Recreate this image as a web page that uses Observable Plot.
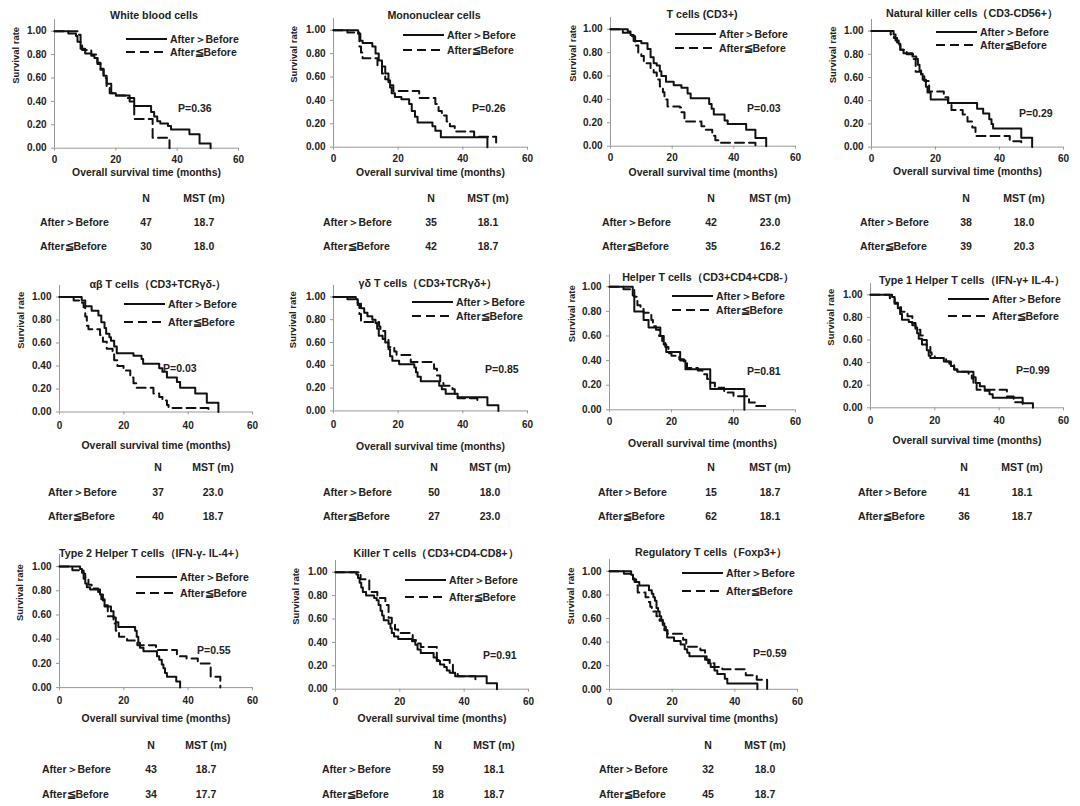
<!DOCTYPE html>
<html>
<head>
<meta charset="utf-8">
<script src="https://cdn.jsdelivr.net/npm/d3@7"></script>
<script src="https://cdn.jsdelivr.net/npm/@observablehq/plot@0.6"></script>
<style>
  body { margin: 0; background: #fff; }
  #fig { position: relative; width: 1080px; height: 806px; overflow: hidden;
         font-family: "Liberation Sans", Arial, sans-serif; font-weight: bold; color: #222; }
  .abs { position: absolute; white-space: nowrap; line-height: 14px; }
</style>
</head>
<body>
<div id="fig"></div>
<script>
// ---- Panel labels and summary statistics ----
const panelTitles = [
  "White blood cells", "Mononuclear cells", "T cells (CD3+)", "Natural killer cells（CD3-CD56+）",
  "αβ T cells（CD3+TCRγδ-）", "γδ T cells（CD3+TCRγδ+）", "Helper T cells（CD3+CD4+CD8-）",
  "Type 1 Helper T cells（IFN-γ+ IL-4-）", "Type 2 Helper T cells（IFN-γ- IL-4+）",
  "Killer T cells（CD3+CD4-CD8+）", "Regulatory T cells（Foxp3+）"
];
const groupLabels = ["After＞Before", "After≦Before"];
const pValues   = ["0.36", "0.26", "0.03", "0.29", "0.03", "0.85", "0.81", "0.99", "0.55", "0.91", "0.59"];
const nGreater  = [47, 35, 42, 38, 37, 50, 15, 41, 43, 59, 32];
const nLessEq   = [30, 42, 35, 39, 40, 27, 62, 36, 34, 18, 45];
const mstGreater = ["18.7", "18.1", "23.0", "18.0", "23.0", "18.0", "18.7", "18.1", "18.7", "18.1", "18.0"];
const mstLessEq  = ["18.0", "18.7", "16.2", "20.3", "18.7", "23.0", "18.1", "18.7", "17.7", "18.7", "18.7"];
const xTicks = [0, 20, 40, 60];
const yTicks = [0, 0.2, 0.4, 0.6, 0.8, 1.0];

// ---- Kaplan–Meier steps: [month, survival rate] ----
const wbcUp = [[0,1],[4.5,0.98],[7,0.96],[7.5,0.91],[8.5,0.85],[10,0.81],[12,0.79],[13,0.77],[14,0.72],[15,0.68],[16,0.62],[17,0.55],[18.5,0.47],[20,0.45],[24.5,0.40],[26,0.36],[31.5,0.31],[32.5,0.27],[33.5,0.23],[34.5,0.21],[37,0.19],[38,0.16],[44,0.12],[47.3,0.04],[50.9,0]];
const wbcDown = [[0,1],[7.5,0.97],[8.5,0.90],[9,0.84],[12,0.80],[14,0.73],[15,0.67],[16,0.60],[17,0.53],[18,0.47],[19.5,0.45],[23,0.43],[26,0.25],[32,0.09],[37.5,0]];

const monoUp = [[0,1],[7.6,0.97],[8.3,0.91],[9,0.89],[12,0.86],[13,0.80],[14,0.74],[15,0.69],[16,0.63],[17,0.57],[17.5,0.51],[18,0.46],[19,0.43],[21,0.41],[23.4,0.37],[24.2,0.31],[25.2,0.26],[26,0.21],[30.6,0.18],[31.5,0.14],[33.2,0.086],[47.6,0]];
const monoDown = [[0,1],[4.3,0.98],[8,0.86],[8.5,0.81],[9,0.76],[13.6,0.70],[15,0.63],[16,0.58],[17,0.53],[18.5,0.48],[26.5,0.42],[31.5,0.37],[32.5,0.31],[33.5,0.27],[35,0.22],[36,0.18],[37.5,0.135],[43.5,0.09],[50.3,0]];

const cd3Up = [[0,1],[5.6,0.98],[6.5,0.95],[7.5,0.90],[10,0.88],[12,0.83],[13,0.76],[14,0.71],[15,0.69],[16,0.64],[16.5,0.60],[18,0.55],[20.5,0.52],[23,0.50],[25,0.45],[26,0.41],[32,0.36],[32.8,0.32],[33.5,0.27],[37,0.22],[38,0.19],[44,0.14],[47,0.07],[50.5,0]];
const cd3Down = [[0,1],[4,0.97],[7,0.94],[8,0.86],[9,0.80],[10,0.77],[10.8,0.71],[13,0.66],[14,0.63],[15,0.57],[16,0.51],[17,0.46],[17.5,0.40],[18.5,0.34],[22.5,0.33],[23,0.29],[24,0.21],[29.5,0.17],[30.5,0.14],[33,0.09],[34,0.05],[35.5,0.03],[47,0]];

const nkUp = [[0,1],[6.9,0.97],[7.5,0.92],[8.5,0.89],[9,0.84],[10,0.81],[12.8,0.78],[14,0.76],[14.5,0.71],[15,0.66],[15.5,0.63],[16,0.58],[17,0.52],[17.5,0.47],[18.5,0.41],[23.9,0.38],[33,0.33],[34.9,0.29],[36.8,0.24],[37.5,0.20],[38,0.16],[46.8,0.08],[50.2,0]];
const nkDown = [[0,1],[6,0.97],[7,0.94],[8,0.88],[9,0.84],[11,0.80],[13,0.76],[13.8,0.65],[15.5,0.61],[16.5,0.57],[18,0.48],[22.6,0.43],[24,0.38],[25,0.32],[28.5,0.28],[30,0.22],[31.5,0.17],[32.5,0.095],[43.2,0.05],[46.8,0]];

const abUp = [[0,1],[6.9,0.97],[8,0.92],[10,0.88],[12.1,0.84],[13,0.78],[14,0.73],[14.5,0.68],[15.5,0.65],[16,0.62],[17,0.57],[17.8,0.51],[23,0.49],[25.5,0.46],[26,0.42],[31,0.38],[32,0.35],[33.4,0.30],[36.5,0.26],[37.5,0.21],[42.2,0.16],[45.8,0.08],[49.4,0]];
const abDown = [[0,1],[4.4,0.97],[7,0.95],[7.5,0.91],[8,0.83],[8.5,0.75],[9,0.72],[12.6,0.67],[13.5,0.61],[14.7,0.55],[16.5,0.50],[17,0.45],[18,0.40],[19.9,0.36],[22,0.30],[23,0.25],[24,0.21],[29.2,0.16],[31,0.13],[32,0.10],[33.4,0.06],[33.9,0.035],[46.3,0]];

const gdUp = [[0,1],[6.9,0.98],[7.5,0.94],[8.5,0.90],[9.5,0.86],[10.5,0.83],[12,0.80],[13,0.77],[13.5,0.72],[14,0.66],[15.2,0.63],[16,0.60],[17,0.54],[17.5,0.48],[18.2,0.44],[20.3,0.41],[25,0.38],[25.5,0.34],[26,0.30],[27,0.26],[32.7,0.22],[33.5,0.19],[34.7,0.15],[38.4,0.12],[47.6,0.05],[51,0]];
const gdDown = [[0,1],[4.3,0.98],[7.5,0.93],[8,0.85],[8.5,0.78],[14.1,0.74],[14.5,0.70],[16,0.63],[17,0.56],[18.8,0.52],[19.5,0.49],[23.9,0.43],[31.1,0.37],[32,0.31],[33,0.26],[34,0.22],[36.8,0.19],[37.5,0.15],[38.4,0.11],[44.5,0.07]];

const thUp = [[0,1],[7.5,0.93],[8,0.80],[11,0.73],[12.6,0.67],[16.4,0.60],[17.5,0.53],[18.3,0.47],[22.8,0.40],[24.5,0.33],[32.5,0.17],[43.5,0]];
const thDown = [[0,1],[4.5,0.98],[8,0.92],[9,0.85],[10,0.82],[11,0.79],[13.5,0.73],[14,0.68],[15,0.65],[16,0.60],[17,0.55],[18,0.51],[19,0.46],[20,0.44],[22.5,0.41],[24,0.39],[25,0.34],[28.5,0.32],[30,0.29],[31.5,0.25],[32.5,0.22],[34,0.18],[37,0.14],[40,0.11],[45,0.06],[47,0.03],[50.4,0]];

const th1Up = [[0,1],[6.7,0.98],[7.5,0.93],[8.5,0.88],[9.2,0.83],[9.8,0.78],[11.9,0.76],[13,0.73],[14,0.71],[14.5,0.66],[15,0.61],[16,0.56],[17.5,0.51],[18.1,0.46],[18.6,0.44],[22.8,0.41],[24.5,0.39],[25,0.37],[26,0.34],[27,0.32],[32,0.27],[32.7,0.22],[34,0.19],[35.5,0.15],[37,0.12],[38,0.09],[47.3,0.04],[50.5,0]];
const th1Down = [[0,1],[6,0.97],[7.5,0.92],[8.5,0.89],[9.5,0.85],[11.5,0.81],[13,0.75],[14,0.69],[15.5,0.64],[16.5,0.60],[17.5,0.55],[18.6,0.49],[19,0.46],[20,0.44],[23.5,0.41],[25,0.38],[26,0.34],[27,0.32],[30.5,0.30],[31.5,0.26],[32,0.21],[33,0.16],[42.4,0.10],[44.5,0.05],[47.3,0]];

const th2Up = [[0,1],[6.4,0.98],[7,0.95],[7.5,0.90],[8,0.86],[8.5,0.83],[9.5,0.81],[12.6,0.77],[13.5,0.72],[14,0.67],[16,0.63],[16.8,0.58],[17.5,0.54],[18.3,0.50],[23.5,0.47],[24,0.42],[24.5,0.37],[25,0.33],[26.1,0.30],[30.3,0.26],[31,0.23],[31.8,0.19],[32.3,0.16],[32.8,0.12],[33.4,0.09],[36.3,0.05],[37.5,0]];
const th2Down = [[0,1],[4,0.97],[7.5,0.94],[8,0.91],[9,0.85],[10,0.82],[12,0.79],[13,0.73],[14,0.68],[15,0.59],[16.8,0.53],[17.5,0.47],[18.5,0.42],[21,0.39],[24.2,0.35],[30,0.31],[36.5,0.26],[39.5,0.24],[43,0.20],[47,0.09],[50,0]];

const ctlUp = [[0,1],[6.5,0.98],[7,0.95],[7.5,0.91],[8,0.87],[8.5,0.83],[9.5,0.80],[12,0.78],[12.8,0.76],[13.4,0.72],[14,0.67],[14.5,0.63],[15,0.59],[16.5,0.56],[17.1,0.52],[17.5,0.48],[18.2,0.45],[19.5,0.43],[23.8,0.41],[24.8,0.38],[25.5,0.34],[26.5,0.31],[30.5,0.27],[31.5,0.24],[32.5,0.21],[33.8,0.19],[34.6,0.16],[35.5,0.14],[37.2,0.11],[47,0.05],[50.2,0]];
const ctlDown = [[0,1],[7.8,0.94],[10.5,0.83],[13,0.78],[15.5,0.72],[16.5,0.61],[17.5,0.56],[18.5,0.51],[19.5,0.48],[24,0.42],[25,0.39],[26.5,0.36],[31.5,0.25],[35.5,0.22],[36.5,0.14],[38,0.11],[43.5,0.08]];

const tregUp = [[0,1],[6.9,0.97],[7.5,0.94],[8,0.91],[9.5,0.88],[12.6,0.84],[13.5,0.81],[14,0.78],[14.5,0.75],[15,0.69],[15.5,0.66],[16,0.62],[16.5,0.59],[17,0.56],[17.5,0.53],[18,0.50],[18.4,0.44],[20.6,0.41],[22.7,0.38],[24,0.34],[24.8,0.31],[25.5,0.28],[30.5,0.25],[31.5,0.22],[32.3,0.19],[33.5,0.16],[34.4,0.13],[36.8,0.09],[37.6,0.05],[47.2,0]];
const tregDown = [[0,1],[4.6,0.98],[7.5,0.93],[8.5,0.88],[9,0.82],[11.5,0.78],[12.5,0.74],[13,0.70],[13.5,0.66],[15,0.62],[16,0.58],[17,0.54],[17.5,0.50],[18.5,0.47],[23.5,0.42],[24.5,0.36],[29,0.33],[30.5,0.28],[31,0.25],[32,0.22],[33.5,0.19],[36,0.17],[43.5,0.12],[47,0.08],[50.3,0]];

const curves = [
  [wbcUp, wbcDown], [monoUp, monoDown], [cd3Up, cd3Down], [nkUp, nkDown],
  [abUp, abDown], [gdUp, gdDown], [thUp, thDown], [th1Up, th1Down],
  [th2Up, th2Down], [ctlUp, ctlDown], [tregUp, tregDown]
];

// ---- Page layout of each panel (pixels) ----
// fx: x pixel of 0 and 60 months; fy: y pixel of 1.00 and 0.00
const layout = [
  {fx:[54,238],  fy:[31,148],  title:[154,15],  leg:[126,39,52],   p:[178,108], yLab:39, pad:5, xLab:24, tx:[40,146,204],  ty:[198,222,246]},
  {fx:[333,527], fy:[30,147],  title:[434,15],  leg:[403,35,50],   p:[472,108], yLab:40, pad:5, xLab:25, tx:[323,431,488], ty:[198,222,246]},
  {fx:[610,795], fy:[29,146],  title:[702,14],  leg:[675,34,48],   p:[747,108], yLab:38, pad:5, xLab:26, tx:[602,711,770], ty:[198,222,246]},
  {fx:[871,1063],fy:[31,147],  title:[972,13],  leg:[936,32,45],   p:[1019,113],yLab:39, pad:5, xLab:25, tx:[860,966,1024],ty:[198,222,246]},
  {fx:[59,252],  fy:[296,411], title:[158,284], leg:[124,304,322], p:[163,368], yLab:39, pad:7, xLab:34, tx:[48,158,213],  ty:[467,492,516]},
  {fx:[333,527], fy:[296,410], title:[428,283], leg:[412,302,316], p:[485,369], yLab:41, pad:7, xLab:36, tx:[323,434,490], ty:[467,492,516]},
  {fx:[609,795], fy:[286,409], title:[708,277], leg:[672,296,310], p:[747,371], yLab:38, pad:5, xLab:34, tx:[598,711,770], ty:[467,492,516]},
  {fx:[870,1063],fy:[294,407], title:[972,280], leg:[948,299,316], p:[1016,370],yLab:40, pad:6, xLab:33, tx:[858,964,1022],ty:[467,492,516]},
  {fx:[59,252],  fy:[566,687], title:[152,553], leg:[136,577,593], p:[197,650], yLab:40, pad:6, xLab:31, tx:[42,151,206],  ty:[745,769,794]},
  {fx:[335,528], fy:[572,689], title:[436,553], leg:[405,580,597], p:[483,655], yLab:40, pad:6, xLab:29, tx:[322,438,494], ty:[745,769,794]},
  {fx:[609,797], fy:[571,689], title:[711,552], leg:[682,573,591], p:[753,653], yLab:39, pad:6, xLab:29, tx:[599,708,765], ty:[745,769,794]}
];

const fig = document.getElementById("fig");
const FONT = "'Liberation Sans', Arial, sans-serif";
const INK = "#222";
const AXIS = "#999";
const DASH = "9,5";

function addText(txt, x, y, size, anchor) {
  const d = document.createElement("div");
  d.className = "abs";
  d.textContent = txt;
  d.style.fontSize = size + "px";
  d.style.top = (y - 7) + "px";
  d.style.left = x + "px";
  if (anchor === "middle") d.style.transform = "translateX(-50%)";
  fig.appendChild(d);
}

function addLegend(L) {
  const [lx, r1, r2] = L.leg;
  const svg = d3.select(fig).append("svg")
    .attr("width", 44).attr("height", r2 - r1 + 8)
    .style("position", "absolute").style("left", lx + "px").style("top", (r1 - 4) + "px");
  svg.append("line").attr("x1", 0).attr("x2", 41).attr("y1", 4).attr("y2", 4)
    .attr("stroke", "#111").attr("stroke-width", 2);
  svg.append("line").attr("x1", 0).attr("x2", 41).attr("y1", r2 - r1 + 4).attr("y2", r2 - r1 + 4)
    .attr("stroke", "#111").attr("stroke-width", 2).attr("stroke-dasharray", DASH);
  addText(groupLabels[0], lx + 44, r1, 10.5);
  addText(groupLabels[1], lx + 44, r2, 10.5);
}

curves.forEach((pair, i) => {
  const L = layout[i];
  const [xa, xb] = L.fx;
  const [y1, y0] = L.fy;
  const fh = 1.1 * (y0 - y1);
  const fw = xb - xa;
  const ml = 56, mr = 10, mt = 4, mb = 46;

  const toRows = (steps, g) => steps.map(([t, s]) => ({t, s, group: groupLabels[g]}));
  const up = toRows(pair[0], 0);
  const down = toRows(pair[1], 1);

  const chart = Plot.plot({
    width: fw + ml + mr,
    height: fh + mt + mb,
    marginLeft: ml, marginRight: mr, marginTop: mt, marginBottom: mb,
    x: {domain: [0, 60]},
    y: {domain: [0, 1.1]},
    style: {fontFamily: FONT, fontSize: "10px", fontWeight: "bold", color: INK, background: "none", overflow: "visible"},
    marks: [
      Plot.axisY({ticks: yTicks, tickFormat: d3.format(".2f"), tickSize: 3, tickPadding: 5,
                  stroke: AXIS, fill: INK, label: null}),
      Plot.axisX({ticks: xTicks, tickSize: 3, tickPadding: L.pad, stroke: AXIS, fill: INK, label: null}),
      Plot.ruleX([0], {stroke: AXIS}),
      Plot.ruleY([0], {stroke: AXIS}),
      Plot.text(["Survival rate"], {text: d => d, frameAnchor: "left", rotate: -90, dx: -L.yLab,
                                    fontSize: 9.5, fill: INK}),
      Plot.text(["Overall survival time (months)"], {text: d => d, frameAnchor: "bottom", dy: L.xLab,
                                    lineAnchor: "middle", fontSize: 10.4, fill: INK}),
      Plot.line(down, {x: "t", y: "s", curve: "step-after", stroke: "#111", strokeWidth: 2, strokeDasharray: DASH}),
      Plot.line(up, {x: "t", y: "s", curve: "step-after", stroke: "#111", strokeWidth: 2})
    ]
  });
  chart.style.position = "absolute";
  chart.style.left = (xa - ml) + "px";
  chart.style.top = (y0 - fh - mt) + "px";
  fig.appendChild(chart);

  addText(panelTitles[i], L.title[0], L.title[1], 10.7, "middle");
  addLegend(L);
  addText("P=" + pValues[i], L.p[0], L.p[1], 10.5);

  // summary table
  const [cx0, cxN, cxM] = L.tx;
  const [ry0, ry1, ry2] = L.ty;
  addText("N", cxN, ry0, 10.5, "middle");
  addText("MST (m)", cxM, ry0, 10.5, "middle");
  addText(groupLabels[0], cx0, ry1, 10.5);
  addText(String(nGreater[i]), cxN, ry1, 10.5, "middle");
  addText(mstGreater[i], cxM, ry1, 10.5, "middle");
  addText(groupLabels[1], cx0, ry2, 10.5);
  addText(String(nLessEq[i]), cxN, ry2, 10.5, "middle");
  addText(mstLessEq[i], cxM, ry2, 10.5, "middle");
});
</script>
</body>
</html>
